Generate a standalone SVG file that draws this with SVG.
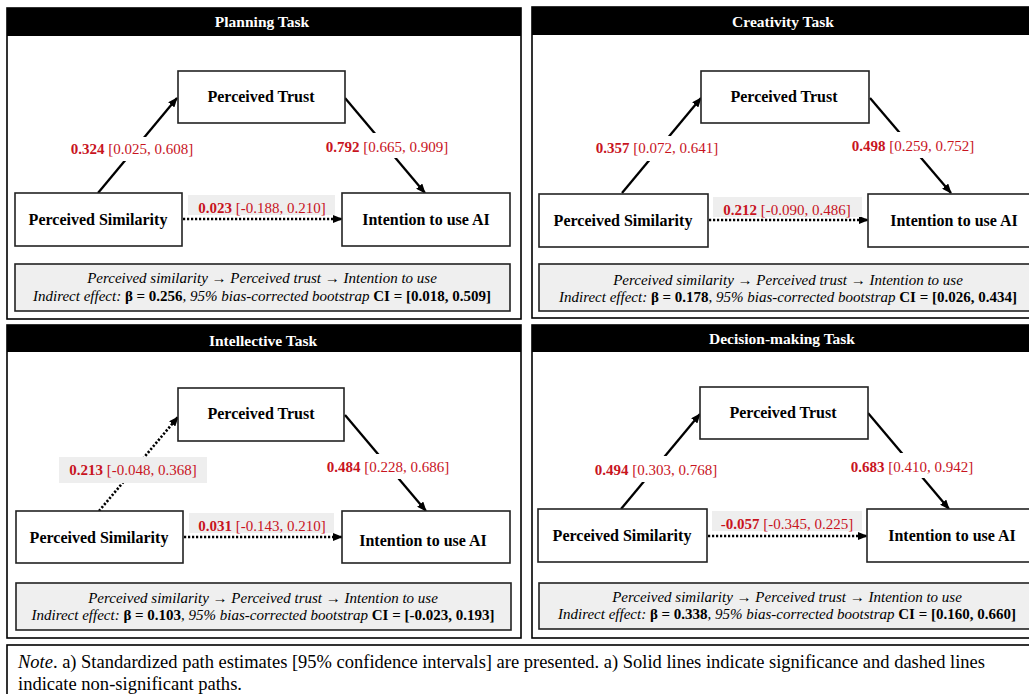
<svg xmlns="http://www.w3.org/2000/svg" width="1029" height="694" viewBox="0 0 1029 694">
<style>
.panel{fill:#fff;stroke:#000;stroke-width:1.6}
.hdr{fill:#000}
.title{font-family:"Liberation Serif","Times New Roman",serif;font-weight:bold;font-size:15.5px;fill:#fff;text-anchor:middle}
.node rect{fill:#fff;stroke:#222;stroke-width:1.6}
.node text{font-family:"Liberation Serif","Times New Roman",serif;font-weight:bold;font-size:16px;fill:#000;text-anchor:middle}
.sum rect{fill:#efefef;stroke:#222;stroke-width:1.6}
.sum text{font-family:"Liberation Serif","Times New Roman",serif;font-style:italic;font-size:15px;fill:#000;text-anchor:middle}
.b{font-weight:bold;font-style:normal}
.lbl{font-family:"Liberation Serif","Times New Roman",serif;font-size:15px;fill:#c8141e;text-anchor:middle}
.lbl .v{font-weight:bold}
.wbg{fill:#fff}
.gbg{fill:#eeeeee}
.sig{stroke:#000;stroke-width:2.3;fill:none;marker-end:url(#ah)}
.ns{stroke:#000;stroke-width:2.6;fill:none;stroke-dasharray:2.2 1.8;marker-end:url(#ah)}
.note{font-family:"Liberation Serif","Times New Roman",serif;font-size:18.5px;fill:#000}
</style>
<defs>
<marker id="ah" markerUnits="userSpaceOnUse" markerWidth="10" markerHeight="8" refX="9" refY="4" orient="auto">
<path d="M0,0 L10,4 L0,8 z" fill="#000"/>
</marker>
</defs>

<!-- Planning Task -->
<g id="panel-planning">
<rect class="panel" x="7" y="8" width="514" height="311"/>
<rect class="hdr" x="7" y="8" width="514" height="28"/>
<text class="title" x="262" y="27">Planning Task</text>
</g>
<!-- Creativity Task -->
<g id="panel-creativity">
<rect class="panel" x="532" y="7" width="520" height="311"/>
<rect class="hdr" x="532" y="7" width="520" height="28"/>
<text class="title" x="783" y="27">Creativity Task</text>
</g>
<!-- Intellective Task -->
<g id="panel-intellective">
<rect class="panel" x="7" y="325" width="514" height="313"/>
<rect class="hdr" x="7" y="325" width="514" height="27"/>
<text class="title" x="263" y="346">Intellective Task</text>
</g>
<!-- Decision-making Task -->
<g id="panel-decision">
<rect class="panel" x="532" y="325" width="520" height="313"/>
<rect class="hdr" x="532" y="325" width="520" height="27"/>
<text class="title" x="782" y="344">Decision-making Task</text>
</g>

<g id="connectors">
<!-- Planning -->
<line class="sig" x1="98" y1="193" x2="177" y2="98"/>
<line class="sig" x1="345" y1="98" x2="425" y2="193"/>
<line class="ns" x1="183" y1="219" x2="342" y2="219"/>
<!-- Creativity -->
<line class="sig" x1="622" y1="193" x2="701" y2="98"/>
<line class="sig" x1="870" y1="98" x2="951" y2="193"/>
<line class="ns" x1="709" y1="220" x2="868" y2="220"/>
<!-- Intellective -->
<line class="ns" x1="99" y1="511" x2="178" y2="417"/>
<line class="sig" x1="345" y1="415" x2="426" y2="511"/>
<line class="ns" x1="184" y1="537" x2="342" y2="537"/>
<!-- Decision -->
<line class="sig" x1="621" y1="509" x2="700" y2="414"/>
<line class="sig" x1="868" y1="413" x2="949" y2="509"/>
<line class="ns" x1="708" y1="536" x2="867" y2="536"/>
</g>

<g id="labels">
<!-- Planning -->
<rect class="wbg" x="70" y="137" width="124" height="24"/>
<text class="lbl" x="132" y="154"><tspan class="v">0.324</tspan> [0.025, 0.608]</text>
<rect class="wbg" x="325" y="133" width="124" height="25"/>
<text class="lbl" x="387" y="152"><tspan class="v">0.792</tspan> [0.665, 0.909]</text>
<rect class="gbg" x="188" y="195" width="147" height="20"/>
<text class="lbl" x="262" y="213"><tspan class="v">0.023</tspan> [-0.188, 0.210]</text>
<!-- Creativity -->
<rect class="wbg" x="595" y="136" width="125" height="25"/>
<text class="lbl" x="657" y="153"><tspan class="v">0.357</tspan> [0.072, 0.641]</text>
<rect class="wbg" x="851" y="132" width="125" height="26"/>
<text class="lbl" x="913" y="151"><tspan class="v">0.498</tspan> [0.259, 0.752]</text>
<rect class="gbg" x="713" y="197" width="149" height="20"/>
<text class="lbl" x="787" y="215"><tspan class="v">0.212</tspan> [-0.090, 0.486]</text>
<!-- Intellective -->
<rect class="gbg" x="59" y="457" width="148" height="26"/>
<text class="lbl" x="133" y="475"><tspan class="v">0.213</tspan> [-0.048, 0.368]</text>
<rect class="wbg" x="326" y="454" width="124" height="25"/>
<text class="lbl" x="388" y="472"><tspan class="v">0.484</tspan> [0.228, 0.686]</text>
<rect class="gbg" x="189" y="513" width="145" height="20"/>
<text class="lbl" x="262" y="531"><tspan class="v">0.031</tspan> [-0.143, 0.210]</text>
<!-- Decision -->
<rect class="wbg" x="594" y="456" width="125" height="26"/>
<text class="lbl" x="656" y="475"><tspan class="v">0.494</tspan> [0.303, 0.768]</text>
<rect class="wbg" x="850" y="453" width="125" height="25"/>
<text class="lbl" x="912" y="472"><tspan class="v">0.683</tspan> [0.410, 0.942]</text>
<rect class="gbg" x="712" y="511" width="150" height="20"/>
<text class="lbl" x="787" y="529"><tspan class="v">-0.057</tspan> [-0.345, 0.225]</text>
</g>

<!-- Planning nodes -->
<g id="planning-trust" class="node"><rect x="178" y="71" width="167" height="52"/><text x="261" y="102">Perceived Trust</text></g>
<g id="planning-similarity" class="node"><rect x="15" y="193" width="167" height="53"/><text x="98" y="225">Perceived Similarity</text></g>
<g id="planning-intention" class="node"><rect x="342" y="193" width="168" height="53"/><text x="426" y="225">Intention to use AI</text></g>
<g id="planning-summary" class="sum"><rect x="15" y="264" width="495" height="47"/>
<text x="262" y="283">Perceived similarity → Perceived trust → Intention to use</text>
<text x="262" y="301">Indirect effect: <tspan class="b">β = 0.256</tspan>, 95% bias-corrected bootstrap <tspan class="b">CI = [0.018, 0.509]</tspan></text></g>

<!-- Creativity nodes -->
<g id="creativity-trust" class="node"><rect x="701" y="71" width="168" height="52"/><text x="784" y="102">Perceived Trust</text></g>
<g id="creativity-similarity" class="node"><rect x="539" y="194" width="169" height="53"/><text x="623" y="226">Perceived Similarity</text></g>
<g id="creativity-intention" class="node"><rect x="868" y="194" width="175" height="53"/><text x="954" y="226">Intention to use AI</text></g>
<g id="creativity-summary" class="sum"><rect x="539" y="264" width="500" height="47"/>
<text x="788" y="285">Perceived similarity → Perceived trust → Intention to use</text>
<text x="788" y="302">Indirect effect: <tspan class="b">β = 0.178</tspan>, 95% bias-corrected bootstrap <tspan class="b">CI = [0.026, 0.434]</tspan></text></g>

<!-- Intellective nodes -->
<g id="intellective-trust" class="node"><rect x="178" y="388" width="166" height="53"/><text x="261" y="419">Perceived Trust</text></g>
<g id="intellective-similarity" class="node"><rect x="16" y="511" width="167" height="52"/><text x="99" y="543">Perceived Similarity</text></g>
<g id="intellective-intention" class="node"><rect x="342" y="511" width="168" height="52"/><text x="423" y="546">Intention to use AI</text></g>
<g id="intellective-summary" class="sum"><rect x="16" y="583" width="495" height="47"/>
<text x="263" y="603">Perceived similarity → Perceived trust → Intention to use</text>
<text x="263" y="620">Indirect effect: <tspan class="b">β = 0.103</tspan>, 95% bias-corrected bootstrap <tspan class="b">CI = [-0.023, 0.193]</tspan></text></g>

<!-- Decision nodes -->
<g id="decision-trust" class="node"><rect x="700" y="387" width="168" height="52"/><text x="783" y="418">Perceived Trust</text></g>
<g id="decision-similarity" class="node"><rect x="538" y="509" width="169" height="53"/><text x="622" y="541">Perceived Similarity</text></g>
<g id="decision-intention" class="node"><rect x="867" y="509" width="175" height="53"/><text x="952" y="541">Intention to use AI</text></g>
<g id="decision-summary" class="sum"><rect x="539" y="583" width="500" height="46"/>
<text x="787" y="602">Perceived similarity → Perceived trust → Intention to use</text>
<text x="787" y="619">Indirect effect: <tspan class="b">β = 0.338</tspan>, 95% bias-corrected bootstrap <tspan class="b">CI = [0.160, 0.660]</tspan></text></g>

<!-- Note -->
<g id="note">
<rect x="7" y="645" width="1040" height="60" fill="#fff" stroke="#000" stroke-width="1.6"/>
<text class="note" x="18" y="668" textLength="967" lengthAdjust="spacingAndGlyphs"><tspan font-style="italic">Note</tspan>. a) Standardized path estimates [95% confidence intervals] are presented. a) Solid lines indicate significance and dashed lines</text>
<text class="note" x="18" y="690" textLength="224" lengthAdjust="spacingAndGlyphs">indicate non-significant paths.</text>
</g>
</svg>
